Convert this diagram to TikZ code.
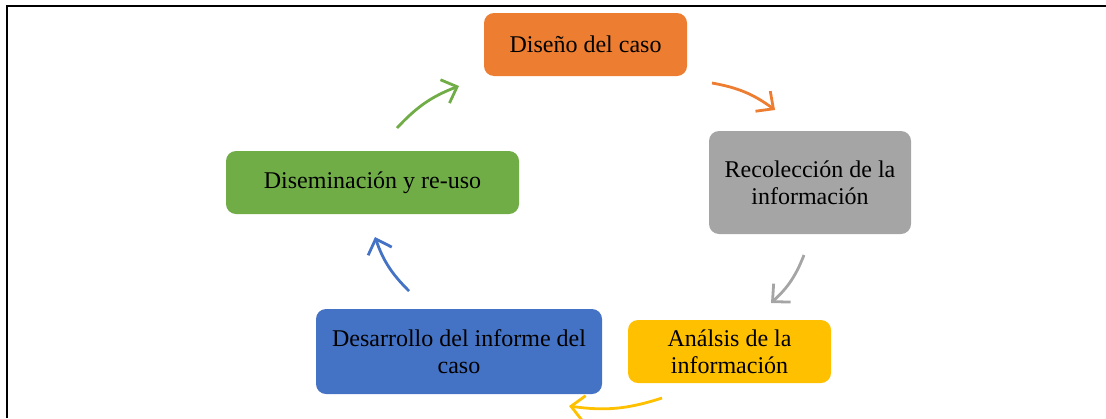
\documentclass[tikz,border=0pt]{standalone}
\usepackage{fontspec}
\setmainfont{Liberation Serif}
\usetikzlibrary{arrows.meta}
\definecolor{orangebox}{HTML}{ED7D31}
\definecolor{graybox}{HTML}{A5A5A5}
\definecolor{yellowbox}{HTML}{FFC000}
\definecolor{bluebox}{HTML}{4472C4}
\definecolor{greenbox}{HTML}{70AD47}
\tikzset{
    box/.style={rectangle,rounded corners=5pt,align=center,inner sep=0pt,font=\fontsize{12}{13.5}\selectfont},
    flow/.style={-{Straight Barb[length=6.5pt,width=12.5pt]},line width=1.4pt,bend left=13}
}

\begin{document}
\begin{tikzpicture}[x=0.5pt,y=-0.5pt]
\useasboundingbox (0,0) rectangle (1106,418);
\draw[line width=1.1pt] (7,418) -- (7,6) -- (1106,6);
                        % stages
                            \node[box,fill=orangebox,minimum width=101.5pt,minimum height=31.5pt] (1) at (585.5,44.5) {Diseño del caso};
                            \node[box,fill=graybox,minimum width=101pt,minimum height=51.5pt] (2) at (810,182.5) {Recolección de la\\información};
                            \node[box,fill=yellowbox,minimum width=101.5pt,minimum height=31.5pt] (3) at (729.5,351.5) {Análsis de la\\información};
                            \node[box,fill=bluebox,minimum width=143pt,minimum height=42.5pt] (4) at (459,351.5) {Desarrollo del informe del\\caso};
                            \node[box,fill=greenbox,minimum width=146.5pt,minimum height=31.5pt] (5) at (372.5,182.5) {Diseminación y re-uso};
                        % arrow ends
                            \coordinate (12a) at (712,83);  \coordinate (12b) at (775,110);
                            \coordinate (23a) at (804,255); \coordinate (23b) at (771,303);
                            \coordinate (34a) at (662,398); \coordinate (34b) at (569,406);
                            \coordinate (45a) at (409,291); \coordinate (45b) at (375,237);
                            \coordinate (51a) at (397,128); \coordinate (51b) at (459,86);
                        %arrows
                        \draw[flow,orangebox] (12a) to (12b);
                        \draw[flow,graybox] (23a) to (23b);
                        \draw[flow,yellowbox] (34a) to (34b);
                        \draw[flow,bluebox] (45a) to (45b);
                        \draw[flow,greenbox] (51a) to (51b);
                        \end{tikzpicture}
\end{document}
